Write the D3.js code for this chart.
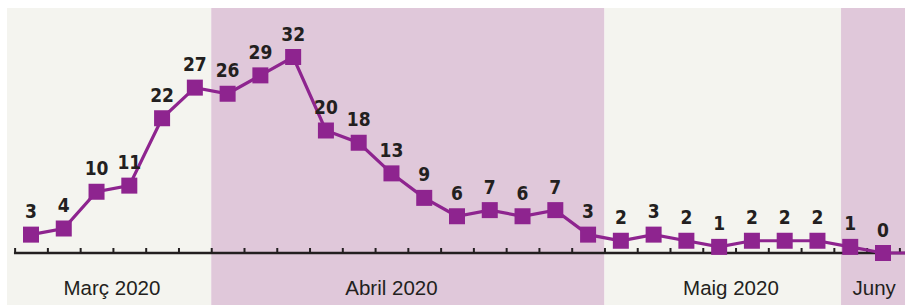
<!DOCTYPE html>
<html>
<head>
<meta charset="utf-8">
<script src="https://cdn.jsdelivr.net/npm/d3@7"></script>
<style>
  html, body { margin: 0; padding: 0; background: #fff; }
  svg { display: block; }
</style>
</head>
<body>
<div id="chart"></div>
<script>
// values per point (the last one runs off the right edge)
const values = [3, 4, 10, 11, 22, 27, 26, 29, 32, 20, 18, 13, 9, 6, 7, 6, 7, 3, 2, 3, 2, 1, 2, 2, 2, 1, 0, 0];
const shown = 27; // points that get a label

// months, where each band ends (in point units) and where its label sits
const months = ["Març 2020", "Abril 2020", "Maig 2020", "Juny"];
const monthEnd = [5.5, 17.5, 24.72, 30];
const monthLabelAt = [2.47, 11, 21.36, 25.73];

const width = 905, height = 305;
const plotLeft = 7, plotTop = 8, base = 253;

const svg = d3.select("#chart")
  .append("svg")
    .attr("width", width)
    .attr("height", height);

// x: index -> px, y: value -> px
const x = d3.scaleLinear()
  .domain([0, 26])
  .range([31, 883]);

const y = d3.scaleLinear()
  .domain([0, 40])
  .range([base, plotTop]);

// month bands
var start = plotLeft;
months.forEach(function(m, i) {
  var end = Math.min(x(monthEnd[i]), width);
  svg.append("rect")
    .attr("x", start)
    .attr("y", plotTop)
    .attr("width", end - start)
    .attr("height", height - plotTop)
    .attr("fill", i % 2 == 0 ? "#f4f4ef" : "#e0c8da");
  start = end;
});

// month names
svg.selectAll(".month")
  .data(months)
  .enter().append("text")
    .attr("class", "month")
    .attr("x", (d, i) => x(monthLabelAt[i]))
    .attr("y", 295)
    .attr("text-anchor", "middle")
    .style("font-family", "'Liberation Sans', Arial, sans-serif")
    .style("font-size", "20.5px")
    .style("fill", "#231f20")
    .text(d => d);

// axis: baseline with small ticks pointing up
svg.append("line")
  .attr("x1", x(-0.52))
  .attr("x2", width)
  .attr("y1", base)
  .attr("y2", base)
  .attr("stroke", "#231f20")
  .attr("stroke-width", 2.6);

const axis = svg.append("g")
  .attr("transform", "translate(0," + base + ")")
  .call(d3.axisTop(x)
    .tickValues(d3.range(-0.5, 27, 1))
    .tickSize(5)
    .tickFormat(""));
axis.select(".domain").remove();
axis.selectAll(".tick line")
  .attr("stroke", "#231f20")
  .attr("stroke-width", 2);

// line
const line = d3.line()
  .x((d, i) => x(i))
  .y(d => y(d));

svg.append("path")
  .datum(values)
  .attr("d", line)
  .attr("fill", "none")
  .attr("stroke", "#8e248f")
  .attr("stroke-width", 3.2);

// square markers
const size = 16;
svg.selectAll(".pt")
  .data(values)
  .enter().append("rect")
    .attr("class", "pt")
    .attr("x", (d, i) => x(i) - size / 2)
    .attr("y", d => y(d) - size / 2)
    .attr("width", size)
    .attr("height", size)
    .attr("fill", "#8e248f");

// value labels
svg.selectAll(".lbl")
  .data(values.slice(0, shown))
  .enter().append("text")
    .attr("class", "lbl")
    .attr("x", (d, i) => x(i))
    .attr("y", d => y(d) - 16.5)
    .attr("text-anchor", "middle")
    .style("font-family", "'Liberation Sans Narrow', 'DejaVu Sans Condensed', sans-serif")
    .style("font-weight", "bold")
    .style("font-size", "19px")
    .style("fill", "#231f20")
    .text(d => d);
</script>
</body>
</html>
